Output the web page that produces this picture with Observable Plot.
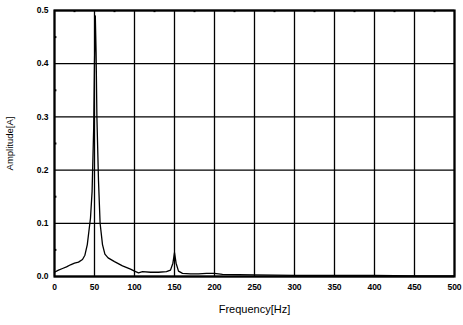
<!DOCTYPE html>
<html><head><meta charset="utf-8">
<script src="https://cdn.jsdelivr.net/npm/d3@7"></script>
<script src="https://cdn.jsdelivr.net/npm/@observablehq/plot@0.6"></script>
<style>body{margin:0;background:#fff;}</style>
</head><body><div id="chart"></div>
<script>
const freq = [0,5,10,15,20,25,30,35,38,41,43,45,47,49,50,51,52,53,55,57,60,63,67,75,85,95,100,105,110,120,130,140,145,148,150,152,155,160,170,180,190,200,210,250,300,350,400,450,500];
const amp  = [0.008,0.012,0.015,0.018,0.022,0.025,0.027,0.032,0.040,0.060,0.085,0.11,0.16,0.28,0.40,0.49,0.42,0.30,0.18,0.10,0.06,0.042,0.035,0.028,0.020,0.014,0.010,0.007,0.009,0.008,0.008,0.009,0.012,0.025,0.045,0.025,0.010,0.006,0.005,0.005,0.006,0.006,0.004,0.003,0.002,0.002,0.002,0.001,0.001];
const xTicks = [0,50,100,150,200,250,300,350,400,450,500];
const yTicks = [0.0,0.1,0.2,0.3,0.4,0.5];
const minorX = [25,75,125,175,225,275,325,375,425,475];
const minorY = [0.05,0.15,0.25,0.35,0.45];
const data = freq.map((f,i)=>({f, a: amp[i]}));

const chart = Plot.plot({
  width: 463, height: 325,
  marginTop: 10, marginBottom: 49, marginLeft: 54, marginRight: 9,
  style: {fontFamily: "'Liberation Sans', Arial, sans-serif", fontSize: "8.5px", fontWeight: "bold", color: "#000", background: "#fff"},
  x: {type: "linear", domain: [0,500], ticks: xTicks, tickSize: 0, tickPadding: 7, label: "Frequency[Hz]", labelArrow: "none", labelAnchor: "center", labelOffset: 36},
  y: {type: "linear", domain: [0,0.5], ticks: yTicks, tickSize: 0, tickPadding: 6, tickFormat: d3.format(".1f"), label: "Amplitude[A]", labelArrow: "none", labelAnchor: "center", labelOffset: 48},
  marks: [
    Plot.ruleX(xTicks, {stroke: "#000", strokeWidth: 1.3}),
    Plot.ruleY(yTicks, {stroke: "#000", strokeWidth: 1.3}),
    Plot.ruleY(minorY, {x1: 0, x2: 3, stroke: "#000", strokeWidth: 2}),
    Plot.ruleX(minorX, {y1: 0.5, y2: 0.496, stroke: "#000", strokeWidth: 2}),
    Plot.frame({stroke: "#000", strokeWidth: 2.2}),
    Plot.line(data, {x: "f", y: "a", stroke: "#000", strokeWidth: 1.3, curve: "linear"})
  ]
});
chart.querySelectorAll("g[aria-label='x-axis label'] text").forEach(t => { t.style.fontSize = "11px"; t.style.fontWeight = "normal"; });
chart.querySelectorAll("g[aria-label='y-axis label'] text").forEach(t => { t.style.fontSize = "9.5px"; t.style.fontWeight = "normal"; });
document.getElementById("chart").appendChild(chart);
</script>
</body></html>
